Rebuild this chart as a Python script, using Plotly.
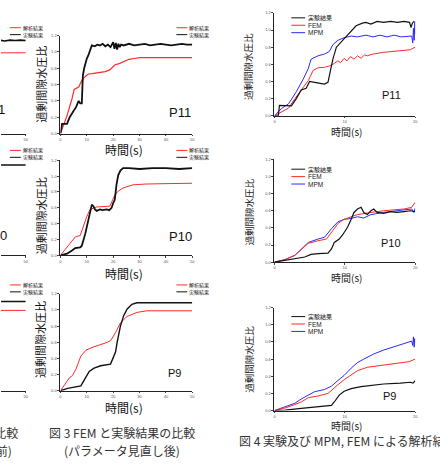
import plotly.graph_objects as go

W, H = 440, 464

# ---------------- data: middle column (図3, t = 0..50 s) ----------------
m11_exp_t = [0, 0.6, 1, 2, 2.5, 3.5, 5, 6, 6.9, 7.5, 8.1, 8.5, 9.0, 9.4, 10, 10.6, 11.3, 11.9, 13, 14, 15, 16, 17, 18, 19, 20, 20.5, 21, 21.5, 22, 22.5, 23, 24, 26, 28, 30, 32, 34, 36, 38, 40, 42, 44, 46, 48, 50]
m11_exp_v = [0, 0.12, 0.12, 0.12, 0.12, 0.2, 0.27, 0.33, 0.40, 0.37, 0.37, 0.71, 0.80, 0.86, 0.92, 0.96, 1.02, 1.08, 1.07, 1.09, 1.08, 1.10, 1.07, 1.09, 1.06, 1.12, 1.04, 1.11, 1.03, 1.10, 1.06, 1.09, 1.08, 1.10, 1.08, 1.09, 1.10, 1.08, 1.09, 1.10, 1.09, 1.08, 1.09, 1.10, 1.09, 1.09]
m11_fem_t = [0, 2.5, 4.4, 5.2, 6.9, 8.1, 9.4, 10.6, 12, 13, 14, 15, 16, 17, 18.75, 20.6, 22.5, 24, 26, 28, 30, 33.75, 40, 50]
m11_fem_v = [0, 0.22, 0.43, 0.54, 0.57, 0.65, 0.70, 0.73, 0.735, 0.74, 0.745, 0.75, 0.755, 0.76, 0.78, 0.84, 0.86, 0.88, 0.91, 0.92, 0.93, 0.93, 0.93, 0.93]

m10_exp_t = [0, 1, 2.5, 4.4, 5.6, 7.5, 8.1, 9.4, 10.25, 11.25, 11.9, 12.5, 13.1, 13.75, 15, 16, 17.5, 18.5, 19.4, 20, 20.6, 21.25, 21.9, 22.75, 23.75, 26, 30, 35, 40, 45, 50]
m10_exp_v = [0, 0.01, 0.02, 0.06, 0.09, 0.10, 0.12, 0.27, 0.39, 0.56, 0.64, 0.62, 0.58, 0.56, 0.58, 0.57, 0.58, 0.57, 0.60, 0.66, 0.70, 0.89, 1.01, 1.07, 1.10, 1.10, 1.09, 1.10, 1.10, 1.09, 1.10]
m10_fem_t = [0, 2.5, 4.4, 5.6, 7.5, 8.75, 10, 11.25, 13.75, 18.75, 20.6, 21.9, 23.75, 27.5, 32.5, 40, 50]
m10_fem_v = [0, 0.10, 0.19, 0.23, 0.25, 0.37, 0.49, 0.58, 0.61, 0.62, 0.76, 0.81, 0.85, 0.89, 0.90, 0.905, 0.91]

m9_exp_t = [0, 2.75, 7.75, 9.6, 10.9, 12.75, 15.25, 19, 20.25, 20.9, 21.5, 22.75, 24, 25.25, 27.1, 29, 35, 40, 45, 50]
m9_exp_v = [0, 0.03, 0.06, 0.17, 0.24, 0.28, 0.31, 0.33, 0.44, 0.48, 0.60, 0.80, 0.93, 1.01, 1.07, 1.09, 1.09, 1.09, 1.09, 1.09]
m9_fem_t = [0, 2.1, 3.4, 4.6, 5.9, 7.75, 9.6, 11.5, 15.25, 17.75, 19, 20.9, 22.75, 25.25, 29, 32.75, 40, 50]
m9_fem_v = [0, 0.09, 0.16, 0.19, 0.27, 0.43, 0.50, 0.53, 0.57, 0.60, 0.62, 0.72, 0.84, 0.92, 0.97, 0.99, 0.99, 0.99]

# ---------------- data: right column (図4, t = 0..20 s) ----------------
r11_exp_t = [0, 0.55, 0.7, 1.5, 2.4, 3.1, 3.8, 4.5, 5.0, 5.7, 6.4, 7.1, 7.6, 8.0, 8.3, 8.8, 9.5, 10.2, 10.9, 11.6, 12.5, 13.0, 13.7, 14.6, 15.5, 16.5, 17.5, 18.4, 19.2, 19.4, 19.6, 19.8]
r11_exp_v = [0, 0, 0.12, 0.12, 0.115, 0.20, 0.30, 0.32, 0.40, 0.39, 0.38, 0.37, 0.39, 0.55, 0.66, 0.80, 0.86, 0.93, 0.99, 1.05, 1.08, 1.09, 1.07, 1.10, 1.09, 1.10, 1.09, 1.10, 1.09, 1.03, 1.08, 1.10]
r11_fem_t = [0, 1, 2, 2.9, 3.8, 4.8, 5.5, 6.2, 7.1, 7.8, 8.5, 9.0, 9.4, 9.9, 10.3, 10.8, 11.3, 11.8, 12.3, 12.8, 13.2, 14, 15.5, 17, 18.4, 19.3, 20]
r11_fem_v = [0, 0.05, 0.09, 0.20, 0.30, 0.41, 0.53, 0.56, 0.565, 0.58, 0.61, 0.64, 0.62, 0.67, 0.64, 0.69, 0.66, 0.70, 0.67, 0.71, 0.70, 0.72, 0.74, 0.75, 0.765, 0.77, 0.80]
r11_mpm_t = [0, 1, 2, 3.1, 4.1, 4.8, 5.2, 6.2, 7.1, 7.8, 8.3, 9, 9.9, 10.9, 11.8, 13, 14, 15, 16, 17, 18, 19, 19.5, 19.65, 19.75, 19.85, 19.95, 20]
r11_mpm_v = [0, 0.085, 0.14, 0.28, 0.43, 0.55, 0.66, 0.70, 0.72, 0.75, 0.83, 0.88, 0.91, 0.93, 0.92, 0.94, 0.92, 0.94, 0.92, 0.94, 0.92, 0.93, 0.93, 0.85, 1.02, 0.88, 1.10, 0.95]

r10_exp_t = [0, 1.5, 2.9, 4.3, 5.2, 6.2, 7.6, 8.1, 8.5, 9.2, 9.7, 10.4, 10.9, 11.3, 11.8, 12.3, 12.7, 13.2, 13.7, 14.1, 14.6, 15.5, 16.5, 17.4, 18.4, 19.3, 20]
r10_exp_v = [0, 0.02, 0.04, 0.06, 0.09, 0.10, 0.105, 0.155, 0.23, 0.27, 0.32, 0.41, 0.50, 0.58, 0.62, 0.64, 0.58, 0.555, 0.60, 0.62, 0.58, 0.57, 0.59, 0.58, 0.59, 0.60, 0.59]
r10_fem_t = [0, 1.5, 2.9, 4.1, 4.8, 6.2, 7.4, 8.3, 9, 9.9, 10.9, 11.8, 13.7, 15.5, 18.4, 19.5, 20]
r10_fem_v = [0, 0.03, 0.08, 0.17, 0.22, 0.25, 0.27, 0.37, 0.45, 0.50, 0.53, 0.555, 0.58, 0.60, 0.62, 0.64, 0.70]
r10_mpm_t = [0, 1.5, 2.9, 4.1, 4.8, 6.2, 7.1, 8.1, 9, 9.9, 10.9, 11.8, 12.7, 13.7, 15.5, 18.4, 19.5, 19.8, 20]
r10_mpm_v = [0, 0.03, 0.08, 0.18, 0.23, 0.27, 0.29, 0.39, 0.47, 0.50, 0.51, 0.53, 0.515, 0.555, 0.58, 0.61, 0.62, 0.58, 0.63]

r9_exp_t = [0, 1.5, 3.8, 6.2, 8.1, 8.5, 9.2, 9.9, 10.9, 12.3, 13.7, 15.5, 17.9, 19.3, 19.7, 20]
r9_exp_v = [0, 0.005, 0.025, 0.045, 0.06, 0.10, 0.18, 0.225, 0.255, 0.28, 0.295, 0.31, 0.32, 0.33, 0.32, 0.35]
r9_fem_t = [0, 1.5, 2.9, 3.8, 4.8, 6.2, 7.6, 8.3, 9, 9.9, 10.9, 11.8, 13.2, 15.5, 17.9, 19.1, 20]
r9_fem_v = [0, 0.03, 0.07, 0.10, 0.15, 0.17, 0.20, 0.255, 0.30, 0.36, 0.42, 0.465, 0.505, 0.53, 0.555, 0.57, 0.60]
r9_mpm_t = [0, 1.5, 2.9, 3.8, 4.8, 5.7, 7.1, 8.1, 9, 9.9, 10.9, 11.8, 12.7, 14.1, 15.5, 17.4, 18.8, 19.5, 19.65, 19.75, 19.85, 19.95, 20]
r9_mpm_v = [0, 0.045, 0.085, 0.135, 0.185, 0.22, 0.245, 0.285, 0.35, 0.41, 0.495, 0.56, 0.60, 0.66, 0.705, 0.755, 0.79, 0.81, 0.76, 0.86, 0.74, 0.84, 0.80]

# ---------------- data: left column (cut-off, late part only) ----------------
l_t = [38, 40, 42, 44, 46, 48, 50]
l11_exp_v = [1.14, 1.145, 1.135, 1.145, 1.14, 1.145, 1.14]
l11_fem_v = [0.99, 0.99, 0.99, 0.99, 0.99, 0.99, 0.99]
l10_exp_v = [1.14, 1.14, 1.145, 1.14, 1.14, 1.145, 1.14]
l9_exp_v = [1.105, 1.105, 1.105, 1.105, 1.105, 1.105, 1.105]
l9_fem_v = [0.995, 0.995, 0.995, 0.995, 0.995, 0.995, 0.995]

y_ticks = [0.0, 0.2, 0.4, 0.6, 0.8, 1.0, 1.2]
mid_x_ticks = [0, 10, 20, 30, 40, 50]
right_x_ticks = [0, 10, 20]

ytitle = "過剰間隙水圧比"
xtitle = "時間(s)"
JP = "Noto Sans CJK JP"
LAT = "Liberation Sans"
BLACK = "#111111"
RED = "#ff2a2a"
BLUE = "#2a2aff"

def px(x):
    return x / W

def py(y):
    return 1 - y / H

# panel geometry in pixels: (x0, x1, ytop, ybottom)
panels = {
    1: (0, 25, 33, 132), 2: (0, 25, 159, 255), 3: (0, 25, 294, 392),
    4: (60, 193, 33, 132), 5: (60, 193, 159, 255), 6: (60, 193, 294, 392),
    7: (276, 418, 10, 114), 8: (276, 418, 158, 262), 9: (276, 418, 308, 412),
}

fig = go.Figure()

def add(n, t, v, color, width):
    sfx = "" if n == 1 else str(n)
    fig.add_trace(go.Scatter(x=t, y=v, mode="lines", line=dict(color=color, width=width),
                             xaxis="x" + sfx, yaxis="y" + sfx, showlegend=False, hoverinfo="skip"))

add(1, l_t, l11_fem_v, RED, 1)
add(1, l_t, l11_exp_v, BLACK, 1.6)
add(2, l_t, l10_exp_v, BLACK, 1.6)
add(3, l_t, l9_fem_v, RED, 1)
add(3, l_t, l9_exp_v, BLACK, 1.4)

add(4, m11_fem_t, m11_fem_v, RED, 1.2)
add(4, m11_exp_t, m11_exp_v, BLACK, 1.8)
add(5, m10_fem_t, m10_fem_v, RED, 1.0)
add(5, m10_exp_t, m10_exp_v, BLACK, 1.8)
add(6, m9_fem_t, m9_fem_v, RED, 1.0)
add(6, m9_exp_t, m9_exp_v, BLACK, 1.4)

for n, (et, ev, ft, fv, mt, mv) in {
    7: (r11_exp_t, r11_exp_v, r11_fem_t, r11_fem_v, r11_mpm_t, r11_mpm_v),
    8: (r10_exp_t, r10_exp_v, r10_fem_t, r10_fem_v, r10_mpm_t, r10_mpm_v),
    9: (r9_exp_t, r9_exp_v, r9_fem_t, r9_fem_v, r9_mpm_t, r9_mpm_v),
}.items():
    add(n, mt, mv, BLUE, 1.0)
    add(n, ft, fv, RED, 1.0)
    add(n, et, ev, BLACK, 1.2)

layout = dict(width=W, height=H, margin=dict(l=0, r=0, t=0, b=0),
              paper_bgcolor="white", plot_bgcolor="white", showlegend=False)

tickfont = dict(family=LAT, size=4, color="#555555")
for n, (x0, x1, yt, yb) in panels.items():
    sfx = "" if n == 1 else str(n)
    if n <= 3:
        xr, xt = [40.6, 50], [40, 50]
    elif n <= 6:
        xr, xt = [0, 50], mid_x_ticks
    else:
        xr, xt = [0, 20], right_x_ticks
    layout["xaxis" + sfx] = dict(domain=[px(x0), px(x1)], anchor="y" + sfx, range=xr,
                                 tickvals=xt, ticks="outside", ticklen=1.5, tickwidth=0.6,
                                 showline=True, linecolor="#222222", linewidth=1,
                                 showgrid=False, zeroline=False, tickfont=tickfont,
                                 fixedrange=True)
    layout["yaxis" + sfx] = dict(domain=[py(yb), py(yt)], anchor="x" + sfx, range=[0, 1.2],
                                 tickvals=y_ticks, tickformat=".1f", ticks="outside",
                                 ticklen=2, tickwidth=0.6,
                                 showline=True, linecolor="#222222", linewidth=1,
                                 showgrid=False, zeroline=False, tickfont=tickfont,
                                 visible=(n > 3), fixedrange=True)
fig.update_layout(**layout)

ann = []
def text(x, y, s, size, family=JP, color="#111111", angle=0, xanchor="center"):
    ann.append(dict(x=px(x), y=py(y), xref="paper", yref="paper", text=s, showarrow=False,
                    textangle=angle, xanchor=xanchor, yanchor="middle", borderpad=0,
                    font=dict(family=family, size=size, color=color)))

# axis titles
for yc in (82, 215, 340):
    text(40, yc, ytitle, 11, angle=-90)
for yc in (148, 273, 409):
    text(124, yc, xtitle, 12)
for yc in (129.5, 277, 427):
    text(349, yc, xtitle, 10, color="#222222")
for yc in (64, 211, 360):
    text(250, yc, ytitle, 9.5, angle=-90, color="#222222")

# panel labels
text(181, 111, "P11", 13, family=LAT)
text(181, 236, "P10", 13, family=LAT)
text(175, 374, "P9", 11, family=LAT)
text(394, 93, "P11", 11, family=LAT)
text(394, 243, "P10", 11, family=LAT)
text(392, 397, "P9", 11, family=LAT)
text(5.5, 108, "P11", 13, family=LAT, xanchor="right")
text(7, 235, "P10", 13, family=LAT, xanchor="right")

# captions
text(122, 434, "図 3 FEM と実験結果の比較", 12, color="#333333")
text(122, 452, "(パラメータ見直し後)", 12, color="#333333")
text(18, 434, "図 2 FEM と実験結果の比較", 12, color="#333333", xanchor="right")
text(12, 452, "(パラメータ見直し前)", 12, color="#333333", xanchor="right")
text(239, 442, "図 4 実験及び MPM, FEM による解析結果", 12, color="#333333", xanchor="left")

shapes = []
def key(x0, x1, y, color, label, size, tx, family=JP):
    shapes.append(dict(type="line", xref="paper", yref="paper", x0=px(x0), x1=px(x1),
                       y0=py(y), y1=py(y), line=dict(color=color, width=1)))
    text(tx, y, label, size, family=family, color="#222222", xanchor="left")

# small legends of 図2 / 図3 panels
for dx in (0, 168):
    for r1 in (25, 149, 285):
        key(9 + dx, 20 + dx, r1, RED, "解析結果", 5, 21 + dx)
        key(9 + dx, 20 + dx, r1 + 7, BLACK, "実験結果", 5, 21 + dx)

# legends of 図4 panels
for r1 in (15, 168, 317):
    key(293, 307, r1, BLACK, "実験結果", 6, 309)
    key(293, 307, r1 + 7.5, RED, "FEM", 6.5, 309, family=LAT)
    key(293, 307, r1 + 15, BLUE, "MPM", 6.5, 309, family=LAT)

fig.update_layout(annotations=ann, shapes=shapes)
fig.write_html("out.html")
